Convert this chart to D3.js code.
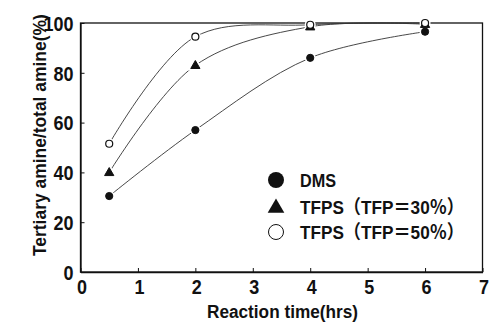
<!DOCTYPE html>
<html><head><meta charset="utf-8">
<script src="https://cdn.jsdelivr.net/npm/d3@7/dist/d3.min.js"></script>
<style>
body{margin:0;background:#fff;}
svg{display:block;}
text{font-family:"Liberation Sans","Noto Sans CJK JP",sans-serif;font-weight:bold;fill:#111;}
</style></head>
<body><svg id="c" width="495" height="323"></svg>
<script>
const times = [0.5, 2, 4, 6];
const dms = [30.5, 57, 86, 96.5];
const tfp30 = [40, 83, 98.5, 99.5];
const tfp50 = [51.5, 94.5, 99.3, 100];
const xTicks = [0,1,2,3,4,5,6,7];
const yTicks = [0,20,40,60,80,100];
const legendLabels = ["DMS", "TFPS（TFP＝30％）", "TFPS（TFP＝50％）"];

const svg = d3.select("#c");
const x = d3.scaleLinear().domain([0,7]).range([80.5,482.5]);
const y = d3.scaleLinear().domain([0,100]).range([272,23]);

// frame
svg.append("rect").attr("x",x(0)).attr("y",y(100)).attr("width",x(7)-x(0)).attr("height",y(0)-y(100))
  .attr("fill","none").attr("stroke","#111").attr("stroke-width",1.3);

// axes
const xa = svg.append("g").attr("transform",`translate(0,${y(0)})`)
  .call(d3.axisBottom(x).tickValues(xTicks).tickFormat(d3.format("d")).tickSizeInner(-4).tickSizeOuter(0).tickPadding(8));
const ya = svg.append("g").attr("transform",`translate(${x(0)},0)`)
  .call(d3.axisLeft(y).tickValues(yTicks).tickFormat(d3.format("d")).tickSizeInner(-4).tickSizeOuter(0).tickPadding(7));
[xa,ya].forEach(a=>{a.select(".domain").attr("stroke","#111").attr("stroke-width",1.3);
  a.selectAll(".tick line").attr("stroke","#111");
  a.selectAll("text").style("font-size","20px").attr("fill","#111")
    .attr("textLength",d=>String(d).length*10).attr("lengthAdjust","spacingAndGlyphs");});
ya.selectAll("text").attr("dy","0.36em");
xa.selectAll("text").attr("dx","1px");

// axis titles
svg.append("text").attr("x",207).attr("y",318).style("font-size","18px")
  .attr("textLength",151).attr("lengthAdjust","spacingAndGlyphs").text("Reaction time(hrs)");
const yt = svg.append("text").style("font-size","16px").text("Tertiary amine/total amine(%)");
const nat = yt.node().getComputedTextLength();
yt.attr("transform",`translate(46,256) rotate(-90) scale(${242/nat},${19/16})`);

// curves
const series = [
  {vals:dms, type:"dot"},
  {vals:tfp30, type:"tri"},
  {vals:tfp50, type:"open"}
];
const line = d3.line().x(d=>x(d[0])).y(d=>y(d[1])).curve(d3.curveCatmullRom.alpha(0.5));
series.forEach(s=>{
  svg.append("path").datum(times.map((t,i)=>[t,s.vals[i]])).attr("d",line)
    .attr("fill","none").attr("stroke","#333").attr("stroke-width",0.9);
});
const tri = d3.symbol().type(d3.symbolTriangle);
function marker(g, type, cx, cy, r, halo){
  let m;
  if(type==="tri"){
    m = g.append("path").attr("d",tri.size(r*r*3.2)()).attr("transform",`translate(${cx},${cy+r*0.15})`).attr("fill","#111");
  } else {
    m = g.append("circle").attr("cx",cx).attr("cy",cy).attr("r",r)
      .attr("fill",type==="open"?"#fff":"#111");
  }
  m.attr("stroke",halo?"#fff":"#111").attr("stroke-width",halo?3:1);
  return m;
}
const mg = svg.append("g");
series.forEach(s=>{
  times.forEach((t,i)=>{
    marker(mg, s.type, x(t), y(s.vals[i]), 4, true);
  });
});
series.forEach(s=>{
  times.forEach((t,i)=>{
    const cx=x(t), cy=y(s.vals[i]);
    if(s.type==="open"){ mg.append("circle").attr("cx",cx).attr("cy",cy).attr("r",3.5).attr("fill","#fff").attr("stroke","#111").attr("stroke-width",1.2);}
    else marker(mg, s.type, cx, cy, s.type==="tri"?3.4:3.6, false);
  });
});

// legend
const lg = svg.append("g");
const ly = [180, 207, 232];
const lw = [36, 164, 164];
lg.append("circle").attr("cx",276).attr("cy",ly[0]).attr("r",8).attr("fill","#111");
lg.append("path").attr("d",d3.symbol().type(d3.symbolTriangle).size(120)()).attr("transform",`translate(276,${ly[1]+1})`).attr("fill","#111");
lg.append("circle").attr("cx",276).attr("cy",ly[2]).attr("r",7.5).attr("fill","#fff").attr("stroke","#111").attr("stroke-width",1);
legendLabels.forEach((t,i)=>{
  lg.append("text").attr("x",300).attr("y",ly[i]).attr("dy","0.36em").style("font-size","19px")
    .attr("textLength",lw[i]).attr("lengthAdjust","spacingAndGlyphs").text(t);
});
</script></body></html>
